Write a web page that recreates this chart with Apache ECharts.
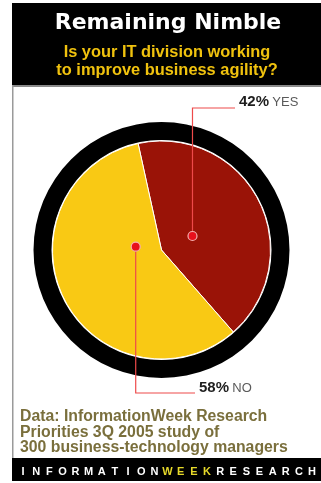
<!DOCTYPE html>
<html>
<head>
<meta charset="utf-8">
<script src="https://cdn.jsdelivr.net/npm/echarts@6/dist/echarts.min.js"></script>
<style>
  html, body { margin: 0; padding: 0; background: #fff; }
  #chart { width: 321px; height: 483px; }
</style>
</head>
<body>
<div id="chart"></div>
<script>
// 数据
const categories = ['YES', 'NO']
const values = [42, 58]
const sliceColors = ['#9a1307', '#f9c914']
const titleText = 'Remaining Nimble'
const subtitleLines = ['Is your IT division working', 'to improve business agility?']
const sourceLines = ['Data: InformationWeek Research', 'Priorities 3Q 2005 study of', '300 business-technology managers']
const brandLetters = 'INFORMATIONWEEKRESEARCH'

// 饼图几何
const cx = 161.5
const cy = 250
const pieR = 109
const startAngle = 102.4
// 标注点：角度(从正上方顺时针)、半径、引线拐点y、标签x
const anchors = [
  { angle: 65.7, r: 34, lineY: 108, labelX: 239, labelY: 102 },
  { angle: 277.3, r: 26, lineY: 393, labelX: 199, labelY: 388 }
]

function dotPos(a) {
  const rad = a.angle * Math.PI / 180
  return [cx + a.r * Math.sin(rad), cy - a.r * Math.cos(rad)]
}

const chart = echarts.init(document.getElementById('chart'))

const graphics = [
  // 顶部黑色标题栏
  { type: 'rect', shape: { x: 12, y: 3, width: 309, height: 82 }, style: { fill: '#000' }, z: 0 },
  { type: 'rect', shape: { x: 12, y: 85, width: 309, height: 2 }, style: { fill: '#8a8a8a' }, z: 0 },
  // 左侧边框
  { type: 'rect', shape: { x: 12, y: 85, width: 1.5, height: 374 }, style: { fill: '#9a9a9a' }, z: 0 },
  // 底部黑色栏
  { type: 'rect', shape: { x: 12, y: 458, width: 309, height: 23 }, style: { fill: '#000' }, z: 0 },
  {
    type: 'text', x: 168, y: 23, z: 5,
    style: { text: titleText, fill: '#fff', font: 'bold 22px "DejaVu Sans", Verdana, sans-serif', textAlign: 'center', textVerticalAlign: 'middle' }
  }
]
subtitleLines.forEach((t, i) => {
  graphics.push({
    type: 'text', x: 167, y: 52 + i * 18, z: 5,
    style: { text: t, fill: '#f0c20e', font: 'bold 16.4px "Liberation Sans", Arial, sans-serif', textAlign: 'center', textVerticalAlign: 'middle' }
  })
})
sourceLines.forEach((t, i) => {
  graphics.push({
    type: 'text', x: 20, y: 417 + i * 15.5, z: 5,
    style: { text: t, fill: '#7a6f3c', font: 'bold 15.8px "Liberation Sans", Arial, sans-serif', textAlign: 'left', textVerticalAlign: 'middle' }
  })
})
brandLetters.split('').forEach((ch, i) => {
  graphics.push({
    type: 'text', x: 23 + i * 13.14, y: 472, z: 5,
    style: { text: ch, fill: (i >= 11 && i <= 14) ? '#e6d92a' : '#fff', font: 'bold 11px "Liberation Sans", Arial, sans-serif', textAlign: 'center', textVerticalAlign: 'middle' }
  })
})
// 标注：引线、圆点、标签
anchors.forEach((a, i) => {
  const p = dotPos(a)
  graphics.push({
    type: 'polyline', z: 19,
    shape: { points: [[p[0], p[1]], [p[0], a.lineY], [a.labelX - 4, a.lineY]] },
    style: { stroke: '#ee4a4a', lineWidth: 1.2, fill: null }
  })
  graphics.push({
    type: 'circle', shape: { cx: p[0], cy: p[1], r: 4.5 }, z: 20,
    style: { fill: '#e8101c', stroke: '#f4b0b0', lineWidth: 1.2 }
  })
  graphics.push({
    type: 'text', x: a.labelX, y: a.labelY, z: 20,
    style: {
      text: '{v|' + values[i] + '%} {c|' + categories[i] + '}',
      textAlign: 'left',
      textVerticalAlign: 'middle',
      rich: {
        v: { fontSize: 15, fontWeight: 'bold', fill: '#1e1e1e', fontFamily: 'Liberation Sans' },
        c: { fontSize: 13, fill: '#5a5a5a', fontFamily: 'Liberation Sans' }
      }
    }
  })
})

const option = {
  animation: false,
  graphic: graphics,
  series: [
    // 外圈黑环
    {
      type: 'pie',
      silent: true,
      center: [cx, cy],
      radius: [pieR + 1, 128],
      label: { show: false },
      labelLine: { show: false },
      itemStyle: { color: '#000' },
      data: [{ value: 1 }],
      z: 1
    },
    {
      type: 'pie',
      center: [cx, cy],
      radius: [0, pieR],
      startAngle: startAngle,
      clockwise: true,
      z: 2,
      itemStyle: { borderColor: '#fff', borderWidth: 1 },
      label: { show: false },
      labelLine: { show: false },
      data: categories.map((c, i) => ({ name: c, value: values[i], itemStyle: { color: sliceColors[i] } }))
    }
  ]
}

chart.setOption(option)
window.addEventListener('resize', function() {
  chart.resize()
})
</script>
</body>
</html>
